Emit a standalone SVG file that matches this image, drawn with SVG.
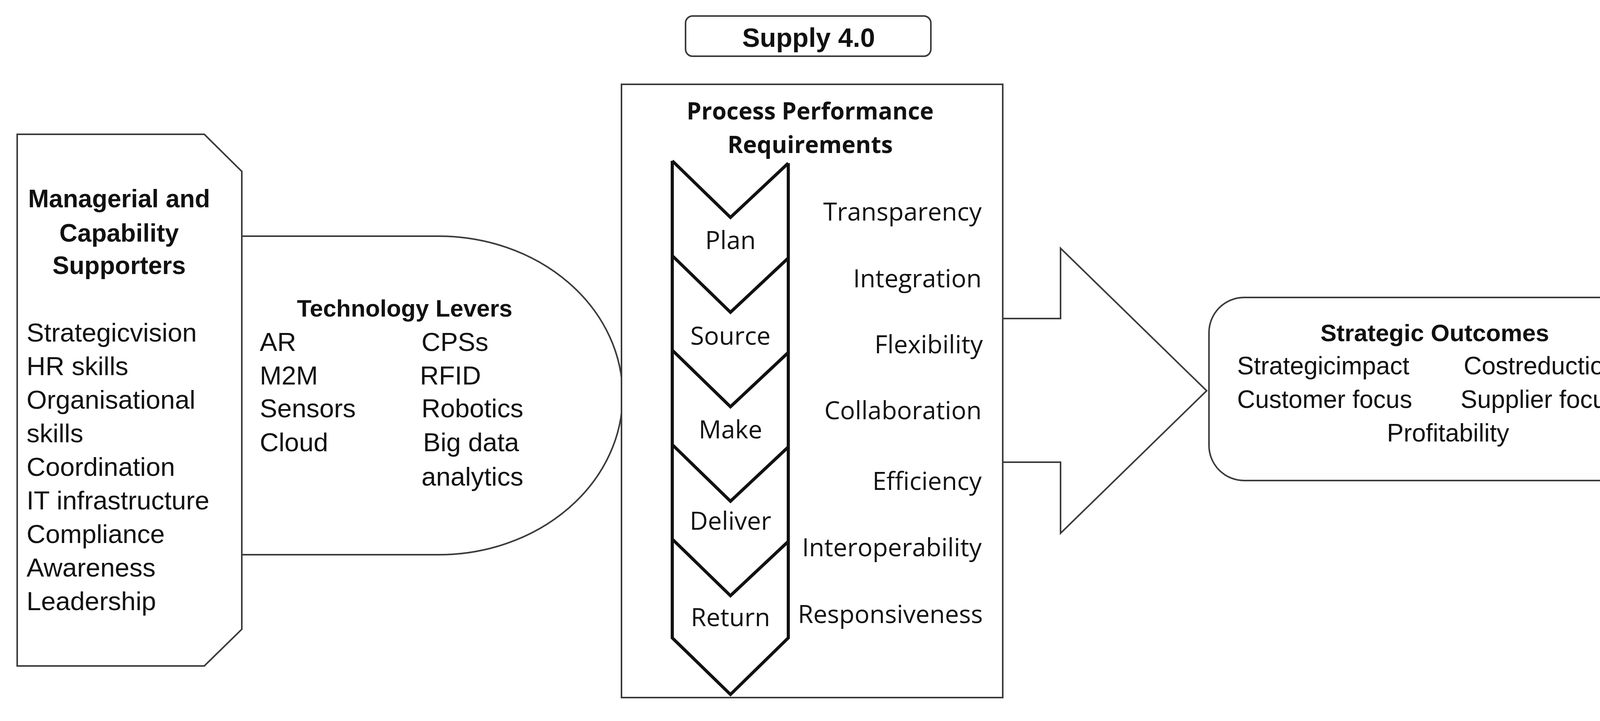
<svg xmlns="http://www.w3.org/2000/svg" width="4294" height="1847" viewBox="0 0 4294 1847">
<style>
.s{fill:#fff;stroke:#3a3a3a;stroke-width:4}
.t{font-family:"Liberation Sans",Arial,sans-serif;font-size:67px;fill:#111}
.b{font-weight:bold}
.m{text-anchor:middle}
.e{text-anchor:end}
.v{font-family:"Open Sans","Liberation Sans",sans-serif;font-size:64px;fill:#111}
</style>
<rect width="4294" height="1847" fill="#fff"/>
<g id="connectors">
<polyline class="s" points="2567,816 2715,816 2715,636 3089,1001 2715,1366 2715,1184 2567,1184"/>
</g>
<g id="technology-levers">
<path class="s" d="M619,605 L1123,605 A471,408 0 0 1 1123,1421 L619,1421"/>
<text class="t b m" x="1036" y="811" style="font-size:61px">Technology Levers</text>
<text class="t" x="665" y="899">AR</text>
<text class="t" x="665" y="985">M2M</text>
<text class="t" x="665" y="1069">Sensors</text>
<text class="t" x="665" y="1156">Cloud</text>
<text class="t" x="1079" y="899">CPSs</text>
<text class="t" x="1075" y="985">RFID</text>
<text class="t" x="1079" y="1069">Robotics</text>
<text class="t" x="1083" y="1156">Big data</text>
<text class="t" x="1079" y="1244">analytics</text>
</g>
<g id="managerial">
<path class="s" d="M44,344 L523,344 L619,439 L619,1612 L523,1706 L44,1706 Z"/>
<text class="t b m" x="305" y="531" style="font-size:64px">Managerial and</text>
<text class="t b m" x="305" y="619" style="font-size:64px">Capability</text>
<text class="t b m" x="305" y="702" style="font-size:64px">Supporters</text>
<text class="t" x="68" y="875">Strategicvision</text>
<text class="t" x="68" y="961">HR skills</text>
<text class="t" x="68" y="1047">Organisational</text>
<text class="t" x="68" y="1133">skills</text>
<text class="t" x="68" y="1219">Coordination</text>
<text class="t" x="68" y="1305">IT infrastructure</text>
<text class="t" x="68" y="1391">Compliance</text>
<text class="t" x="68" y="1477">Awareness</text>
<text class="t" x="68" y="1563">Leadership</text>
</g>
<g id="supply">
<rect class="s" x="1755" y="41" width="628" height="103" rx="18"/>
<text class="t b m" x="2070" y="120" style="font-size:68px">Supply 4.0</text>
</g>
<g id="process">
<rect class="s" x="1591" y="216" width="976" height="1571"/>
<text class="v b m" x="2074" y="306" style="font-size:60px">Process Performance</text>
<text class="v b m" x="2074" y="392" style="font-size:60px">Requirements</text>
<g fill="none" stroke="#111" stroke-width="8" stroke-linejoin="miter">
<path d="M1721,412 L1870,557 L2018,418"/>
<path d="M1721,655 L1870,800 L2018,661"/>
<path d="M1721,897 L1870,1042 L2018,903"/>
<path d="M1721,1139 L1870,1284 L2018,1145"/>
<path d="M1721,1381 L1870,1526 L2018,1387"/>
<path d="M1721,412 L1721,1634 L1870,1779 L2018,1634 L2018,418"/>
</g>
<text class="v m" x="1870" y="638">Plan</text>
<text class="v m" x="1870" y="883">Source</text>
<text class="v m" x="1870" y="1123">Make</text>
<text class="v m" x="1870" y="1357">Deliver</text>
<text class="v m" x="1870" y="1604">Return</text>
<text class="v e" x="2513" y="565">Transparency</text>
<text class="v e" x="2513" y="736">Integration</text>
<text class="v e" x="2516" y="905">Flexibility</text>
<text class="v e" x="2513" y="1074">Collaboration</text>
<text class="v e" x="2513" y="1255">Efficiency</text>
<text class="v e" x="2513" y="1425">Interoperability</text>
<text class="v e" x="2516" y="1596">Responsiveness</text>
</g>
<g id="outcomes">
<rect class="s" x="3095" y="762" width="1161" height="469" rx="90"/>
<text class="t b m" x="3673" y="874" style="font-size:62px">Strategic Outcomes</text>
<text class="t" x="3167" y="959" style="font-size:64px">Strategicimpact</text>
<text class="t" x="3747" y="959" style="font-size:64px">Costreduction</text>
<text class="t" x="3167" y="1045" style="font-size:64px">Customer focus</text>
<text class="t" x="3739" y="1045" style="font-size:64px">Supplier focus</text>
<text class="t m" x="3707" y="1131" style="font-size:64px">Profitability</text>
</g>
</svg>
